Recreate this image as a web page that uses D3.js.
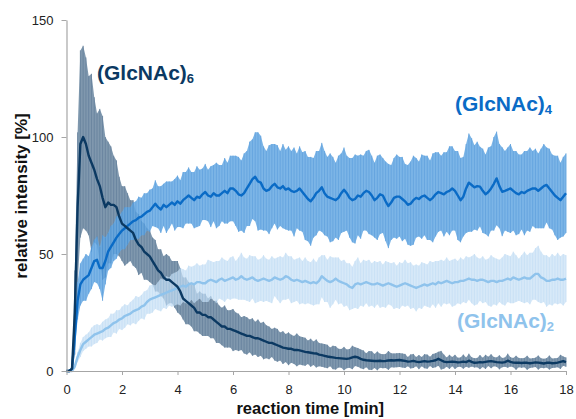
<!DOCTYPE html>
<html>
<head>
<meta charset="utf-8">
<script src="https://cdn.jsdelivr.net/npm/d3@7"></script>
<style>
  body { margin: 0; background: #fff; }
  svg { display: block; font-family: "Liberation Sans", Arial, sans-serif; }
</style>
</head>
<body>
<script>
// sampling: one reading every 0.1 min, 0 .. 18 min
const time = d3.range(0, 181).map(i => i / 10);

// (GlcNAc)6 mean / error
const hexaMean = [
  0,0,1,25,70,97,100,97,92,89,
  86,82,79,74,70,72,71,71,70,66,
  63,62,61,60,59,56,54,53,51,50,
  49,47,45,43,42,40,39,39,38,37,
  36,34,31,30,29,28,27,25,25,24,
  24,23,23,22,21,20,19,19,18,18,
  17.5,17,16.5,16,15.5,15,15,14.5,14,14,
  13.5,13,12.5,12,12,11.5,11,10.5,10,9.8,
  9.5,9.5,9,9,8.8,8.5,8.2,8,7.8,7.6,
  7.5,7,6.8,6.5,6.2,6,5.8,5.6,5.5,5.4,
  5.3,5.2,5.4,5.8,6.1,5.8,5.2,4.8,4.6,4.5,
  4.4,4.3,4.3,4.4,4.2,4.3,4.5,4.6,4.5,4.6,
  4.7,4.5,4.3,4,4.1,4.3,4,3.8,4,4.2,
  4,4.1,4.3,4.6,5.2,4.6,4,3.8,3.9,4,
  3.9,3.7,3.8,4,3.8,4.4,3.9,3.5,3.6,3.8,
  3.7,3.9,4.1,4.2,4,3.8,3.7,3.6,3.8,4.4,
  3.9,3.6,3.5,3.6,3.4,3.6,3.5,3.3,3.5,3.7,
  3.6,3.4,3.2,3.5,3.6,3.3,3.4,3.6,3.9,4.2,
  3.8
];
const hexaErr = [
  0,0,1,18,32,40,39,37,34,38,
  31,28,33,35,30,26,25,21,20,17,
  16,17,15,13,14,12,13,11,12,11,
  11,10,11,9,10,9,11,10,9,10,
  11,10,9,10,9,9,10,8,9,9,
  9,8,9,8,9,8,8,9,8,8,
  9,8,8,7,8,8,7,8,7,8,
  7,8,7,7,6,7,7,6,7,6,
  7,6,6,7,6,6,6,5,6,5,
  6,5,5,5,5,4,5,5,4,4,
  5,4,4,5,4,4,4,4,3,4,
  4,3,4,3,3,3,4,3,3,3,
  3,3,3,2,3,3,2,3,2,3,
  3,2,3,3,3,4,3,2,3,2,
  3,2,2,3,2,3,2,2,2,3,
  2,3,2,3,2,2,3,2,2,3,
  2,2,3,2,2,2,3,2,2,2,
  3,2,2,2,3,2,2,2,3,2,
  2
];

// (GlcNAc)4 mean / error
const tetraMean = [
  0,0,1,15,30,37,39,40,41,44,
  47,47.5,44,44,47,51,53,55,57,58.5,
  60,61,62,63,64,64.5,65.5,66,67,68,
  68.5,70,71.5,70,69,71,70,71,72,71,
  72.5,71.5,73,74,75,74,73,74.5,74,75.5,
  76.5,75,74.5,76,75,75,76,77,76,78,
  78,77,75.5,75,76,78,80,82,83,81,
  80.5,78,77,77.5,79,80,78.5,78,79,77.5,
  78,77,76.5,77,78,76.5,75,73.5,72.5,74,
  76,77,78.5,76,74.5,74,73.5,73,74,76,
  77.5,76,74,73,73.5,75,74.5,76,77,76.5,
  75,73,74,75.5,75,72.5,70.5,72,74,74.5,
  74.5,73.5,72.5,71,71.5,73,74,73.5,74.5,75,
  74,73,74,75.5,76.5,76,75.5,76.5,77,78,
  77,75,73,74.5,78,80.5,79.5,78.5,79,78.8,
  77,75.5,76.5,78,80,82.3,79,76.6,77,77.5,
  78,77,76,75.5,76.5,76,77,77.5,78,78,
  77,78,79,79.5,78,76.5,75,74,73,74.5,
  76
];
const tetraErr = [
  0,0,1,6,8,9,9,10,8,9,
  9,10,9,14,10,8,9,8,9,8,
  8,9,8,7,8,8,9,8,9,8,
  9,8,10,9,10,9,11,10,9,11,
  11,10,12,11,12,11,12,13,12,11,
  12,11,13,12,14,13,12,14,13,14,
  14,15,16,15,17,16,18,17,19,21,
  20,18,17,19,18,17,18,16,18,17,
  18,17,19,16,18,17,19,18,19,17,
  18,17,19,18,17,19,18,16,18,17,
  18,16,17,18,19,17,18,16,17,18,
  17,16,18,17,16,17,18,16,17,18,
  17,18,16,17,18,19,17,16,18,17,
  18,17,19,18,17,16,18,17,19,18,
  17,19,18,17,19,21,20,18,19,17,
  18,17,19,18,20,20,18,19,17,18,
  19,17,18,17,16,18,17,18,16,17,
  16,17,18,16,17,16,17,18,16,17,
  17
];

// (GlcNAc)2 mean / error
const diMean = [
  0,0,0,2,6,9,11.5,12.5,13.5,14.5,
  15.5,16,16.5,17,18,18.5,19.5,20.5,21,22,
  22.5,23.5,24,24.5,25.5,26,26.5,27.5,28,29.5,
  30.5,31,31.5,32,32.5,33,33.5,34,34.5,35,
  35.5,36,36.5,36,37,37.5,37,38,38,37.5,
  37.5,38.5,39,38.5,38,39,39.5,38.5,39,39.5,
  40,39,39.5,40.5,39.5,39,39.5,40,39,38.5,
  39,39.5,39,38.5,39,40,39.5,39,39.5,40.5,
  40,39,38.5,39,38.5,38,38.5,38,37.5,38,
  37.5,38.5,40.5,39.5,38.5,38,38.5,39.5,38.5,38,
  37.5,37,36,35.5,37,37.5,37,37.5,38,37.5,
  37,37,37.5,37,36.5,37,37.5,37,36.5,36,
  36.5,37,37.5,37,36.5,36,35.5,36,36.5,37,
  36.5,37,37.5,37,38,37.5,38,38.5,38,37.5,
  38,38,38.5,38.5,39,39.5,39,39,38.5,39,
  39,38.5,38,38.5,38.5,38,38.5,38.5,39,39.5,
  39,40,39.5,39,39.5,40,39.5,39.5,40.5,41.5,
  41.5,40,39.5,38.5,38.5,39,39,39.5,39,39,
  39.5
];
const diErr = [
  0,0,0,1,2,3,3,3,3,4,
  4,4,3,4,4,4,5,4,5,4,
  5,5,4,5,5,6,5,5,6,5,
  6,6,5,6,7,6,7,6,7,7,
  7,8,7,7,8,7,8,8,7,8,
  8,9,8,8,9,8,9,9,8,9,
  9,8,9,10,9,9,10,9,10,9,
  9,10,9,9,10,8,9,10,9,10,
  9,10,9,9,10,9,10,9,9,10,
  9,10,9,10,9,11,10,9,10,9,
  10,9,10,9,10,11,9,10,9,10,
  9,10,9,10,9,10,9,9,10,9,
  10,9,10,9,10,9,10,9,10,9,
  9,10,9,10,9,10,9,10,9,10,
  10,9,10,9,10,9,10,11,10,9,
  10,9,10,11,10,10,9,10,11,10,
  10,11,10,9,10,11,10,11,10,11,
  12,11,10,11,10,11,10,11,10,11,
  10
];

const xTicks = [0, 2, 4, 6, 8, 10, 12, 14, 16, 18];
const yTicks = [0, 50, 100, 150];

const series = [
  { name: "(GlcNAc)", sub: "6", mean: hexaMean, err: hexaErr,
    line: "#0b3962", band: "#6a87a1", bar: "#4f6e8d", alpha: 0.85, lx: 97, ly: 80 },
  { name: "(GlcNAc)", sub: "4", mean: tetraMean, err: tetraErr,
    line: "#0a6bc6", band: "#66a9e3", bar: "#4a94d9", alpha: 0.85, lx: 455, ly: 111 },
  { name: "(GlcNAc)", sub: "2", mean: diMean, err: diErr,
    line: "#8fc3ec", band: "#c8e1f6", bar: "#b3d5f2", alpha: 0.72, lx: 457, ly: 328 }
];

const width = 576, height = 419;
const margin = { top: 20, right: 10, bottom: 48, left: 66.5 };

const svg = d3.select("body").append("svg")
    .attr("width", width)
    .attr("height", height);

const x = d3.scaleLinear().domain([0, 18]).range([margin.left, width - margin.right]);
const y = d3.scaleLinear().domain([0, 150]).range([height - margin.bottom, margin.top]);

// error bands: filled area plus one error bar per reading
series.forEach(s => {
  const pts = time.map((t, i) => ({ t: t, m: s.mean[i], e: s.err[i] }));
  const area = d3.area()
      .x(d => x(d.t))
      .y0(d => y(Math.max(0, d.m - d.e)))
      .y1(d => y(d.m + d.e));
  const g = svg.append("g").attr("opacity", s.alpha);
  g.append("path")
      .datum(pts)
      .attr("fill", s.band)
      .attr("d", area);
  g.selectAll("line")
    .data(pts)
    .enter().append("line")
      .attr("x1", d => x(d.t))
      .attr("x2", d => x(d.t))
      .attr("y1", d => y(Math.max(0, d.m - d.e)))
      .attr("y2", d => y(d.m + d.e))
      .attr("stroke", s.bar)
      .attr("stroke-width", 0.9);
});

// mean lines, darkest last
const line = d3.line()
    .x(d => x(d.t))
    .y(d => y(d.m));
series.slice().reverse().forEach(s => {
  svg.append("path")
      .datum(time.map((t, i) => ({ t: t, m: s.mean[i] })))
      .attr("fill", "none")
      .attr("stroke", s.line)
      .attr("stroke-width", 2.4)
      .attr("stroke-linejoin", "round")
      .attr("d", line);
});

// axes
const xAxis = svg.append("g")
    .attr("transform", "translate(0," + y(0) + ")")
    .call(d3.axisBottom(x).tickValues(xTicks).tickSize(4).tickSizeOuter(0).tickPadding(10));
const yAxis = svg.append("g")
    .attr("transform", "translate(" + x(0) + ",0)")
    .call(d3.axisLeft(y).tickValues(yTicks).tickSize(5).tickSizeOuter(0).tickPadding(8));

[xAxis, yAxis].forEach(a => {
  a.select(".domain").attr("stroke", "#a6a6a6").attr("stroke-width", 1.2);
  a.selectAll(".tick line").attr("stroke", "#a6a6a6");
  a.selectAll(".tick text")
      .attr("fill", "#222")
      .style("font-size", "13px")
      .style("font-family", "'Liberation Sans', Arial, sans-serif");
});

svg.append("text")
    .attr("x", x(9) - 6)
    .attr("y", 414)
    .attr("text-anchor", "middle")
    .style("font-size", "16.5px")
    .style("font-weight", "bold")
    .attr("fill", "#111")
    .text("reaction time [min]");

svg.append("text")
    .attr("transform", "translate(27,196) rotate(-90)")
    .attr("text-anchor", "middle")
    .style("font-size", "17px")
    .style("font-weight", "bold")
    .attr("fill", "#111")
    .text("relative intensity [%]");

// series labels
series.forEach(s => {
  const t = svg.append("text")
      .attr("x", s.lx)
      .attr("y", s.ly)
      .attr("fill", s.line)
      .style("font-size", "21px")
      .style("font-weight", "bold");
  t.append("tspan").text(s.name);
  t.append("tspan")
      .attr("dy", 3)
      .style("font-size", "13px")
      .text(s.sub);
});
</script>
</body>
</html>
